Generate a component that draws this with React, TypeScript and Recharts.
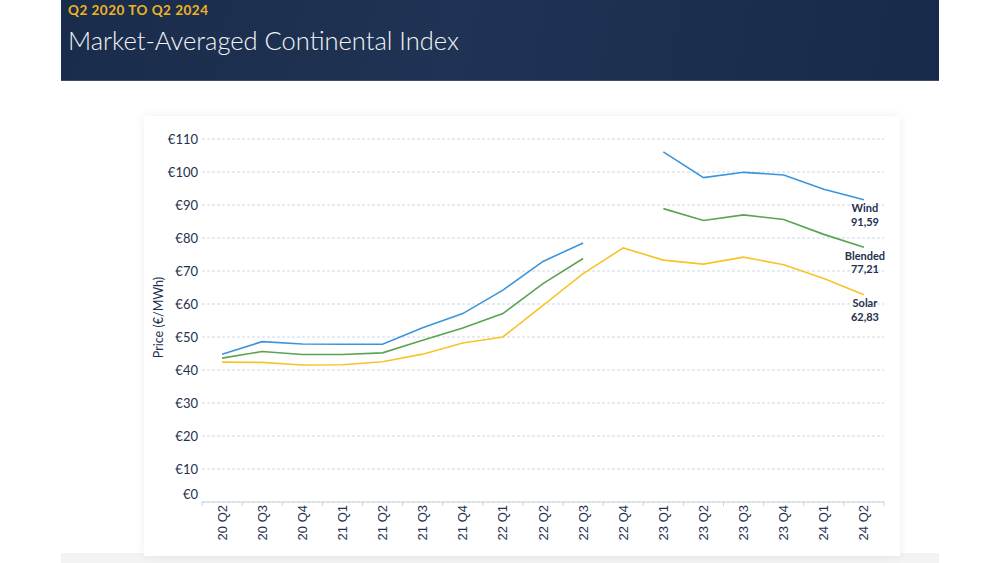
import React from "react";
import { LineChart, Line, XAxis, YAxis, CartesianGrid } from "recharts";

const quarters = [
  "20 Q2", "20 Q3", "20 Q4", "21 Q1", "21 Q2", "21 Q3", "21 Q4", "22 Q1", "22 Q2",
  "22 Q3", "22 Q4", "23 Q1", "23 Q2", "23 Q3", "23 Q4", "24 Q1", "24 Q2",
];
const wind = [44.8, 48.6, 47.9, 47.8, 47.8, 52.8, 57.1, 64.2, 72.9, 78.5, null, 106.1, 98.3, 99.9, 99.1, 94.8, 91.59];
const blended = [43.6, 45.6, 44.7, 44.7, 45.2, 49.0, 52.7, 57.1, 66.2, 73.8, null, 88.9, 85.3, 87.0, 85.6, 81.1, 77.21];
const solar = [42.4, 42.3, 41.5, 41.6, 42.5, 44.8, 48.2, 50.0, 59.6, 69.2, 77.0, 73.3, 72.1, 74.2, 71.9, 67.7, 62.83];
const priceTicks = [0, 10, 20, 30, 40, 50, 60, 70, 80, 90, 100, 110];

const data = quarters.map((q, i) => ({ q, wind: wind[i], blended: blended[i], solar: solar[i] }));

const NAVY = "#22314f";
const AXIS = "#c9d3dd";
const CHART_W = 756;
const PLOT_LEFT = 58;
const PLOT_RIGHT = 16;
const BAND = (CHART_W - PLOT_LEFT - PLOT_RIGHT) / quarters.length;

const YTick = ({ x, y, payload }: any) => (
  <text x={x} y={payload.value === 0 ? y - 8 : y} dy="0.35em" textAnchor="end"
    fontFamily="Lato, sans-serif" fontSize={13} fill={NAVY}>
    €{payload.value}
  </text>
);

const XTick = ({ x, y, payload, index }: any) => (
  <g>
    <line x1={x - BAND / 2} x2={x - BAND / 2} y1={y} y2={y + 4} stroke={AXIS} />
    {index === quarters.length - 1 && (
      <line x1={x + BAND / 2} x2={x + BAND / 2} y1={y} y2={y + 4} stroke={AXIS} />
    )}
    <g transform={`translate(${x},${y + 3}) rotate(-90)`}>
      <text textAnchor="end" dominantBaseline="central"
        fontFamily="'Liberation Sans', Arial, sans-serif" fontSize={13} fill={NAVY}>
        {payload.value}
      </text>
    </g>
  </g>
);

const endLabel = (name: string) => (props: any) => {
  const { x, y, value, index } = props;
  if (index !== quarters.length - 1 || value == null) return null;
  return (
    <g fontFamily="Lato, sans-serif" fontSize={11} fontWeight={700} fill={NAVY} textAnchor="middle">
      <text x={x + 1} y={y + 12.5}>{name}</text>
      <text x={x + 1} y={y + 26}>{Number(value).toFixed(2).replace(".", ",")}</text>
    </g>
  );
};

export default function App() {
  return (
    <div style={{ position: "absolute", left: 0, top: 0, width: 1000, height: 563, background: "#fff", overflow: "hidden" }}>
      <div style={{
        position: "absolute", left: 61, top: 0, width: 878, height: 80,
        background: "linear-gradient(100deg, #1a2c4b 0%, #1f3354 45%, #182a4a 100%)",
        borderBottom: "1px solid #3b4c66",
      }}>
        <div style={{
          position: "absolute", left: 7, top: 2, fontFamily: "Lato, sans-serif", fontWeight: 700,
          fontSize: 13.5, letterSpacing: 0.5, color: "#f0b323",
        }}>
          Q2 2020 TO Q2 2024
        </div>
        <div style={{
          position: "absolute", left: 7, top: 25, fontFamily: "Lato, sans-serif", fontWeight: 300,
          fontSize: 25.5, color: "#f3f5f8",
        }}>
          Market-Averaged Continental Index
        </div>
      </div>
      <div style={{ position: "absolute", left: 61, top: 553, width: 878, height: 10, background: "#f3f3f3" }} />
      <div style={{
        position: "absolute", left: 144, top: 116, width: CHART_W, height: 440, background: "#fff",
        boxShadow: "0 0 10px rgba(0,0,0,0.07)",
      }}>
        <LineChart width={CHART_W} height={440} data={data}
          margin={{ top: 23, right: PLOT_RIGHT, left: 0, bottom: 0 }}>
          <CartesianGrid horizontal vertical={false} stroke="#cdd8e3" strokeDasharray="3 2" />
          <XAxis dataKey="q" scale="band" height={54} axisLine={{ stroke: AXIS }} tickLine={false}
            tickSize={0} tickMargin={0} interval={0} tick={<XTick />} />
          <YAxis type="number" domain={[0, 110]} ticks={priceTicks} width={PLOT_LEFT}
            axisLine={false} tickLine={false} tickSize={0} tickMargin={4} tick={<YTick />}
            label={{
              content: ({ viewBox }: any) => (
                <text x={viewBox.x + 14} y={viewBox.y + viewBox.height / 2 - 3}
                  transform={`rotate(-90, ${viewBox.x + 14}, ${viewBox.y + viewBox.height / 2 - 3})`}
                  textAnchor="middle" dominantBaseline="central"
                  fontFamily="Lato, sans-serif" fontSize={12.5} fill={NAVY}>
                  Price (€/MWh)
                </text>
              ),
            }} />
          <Line dataKey="wind" stroke="#3a95dc" strokeWidth={1.6} dot={false}
            isAnimationActive={false} label={endLabel("Wind")} />
          <Line dataKey="blended" stroke="#5ba350" strokeWidth={1.6} dot={false}
            isAnimationActive={false} label={endLabel("Blended")} />
          <Line dataKey="solar" stroke="#f8c32a" strokeWidth={1.6} dot={false}
            isAnimationActive={false} label={endLabel("Solar")} />
        </LineChart>
      </div>
    </div>
  );
}
